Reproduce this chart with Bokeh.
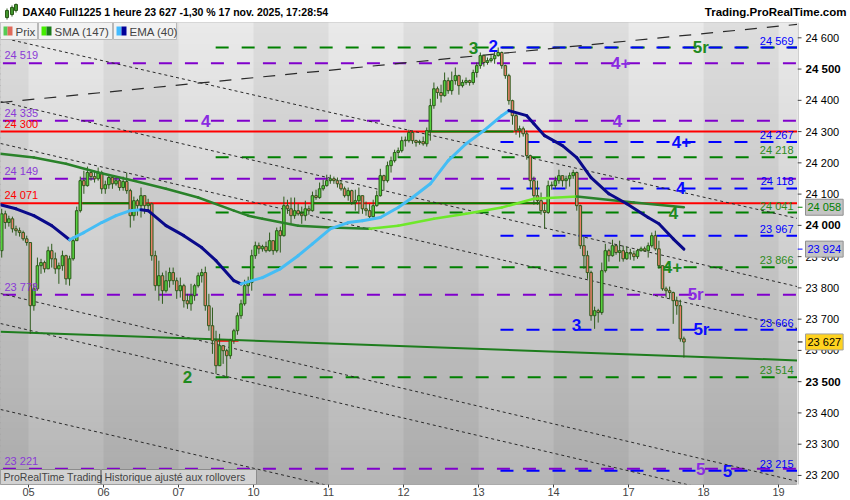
import numpy as np
from bokeh.plotting import figure
from bokeh.layouts import column, row
from bokeh.models import Range1d, FixedTicker, Label, BoxAnnotation
from bokeh.core.properties import value
from bokeh.embed import file_html
from bokeh.resources import INLINE

FONT = "Liberation Sans"

# ---------------------------------------------------------------- data
# DAX40 Full1225, hourly bars from 4 Nov 13:00 to 17 Nov 16:00
day_ticks = ["05", "06", "07", "10", "11", "12", "13", "14", "17", "18", "19"]
BARS_PER_DAY = 21
BARS_BEFORE_FIRST_DAY = 8

first_open = 23919
close = [
    # 4 Nov
    24037, 24009, 24021, 23989, 23983, 23977, 23957, 23945,
    # 5 Nov
    23743, 23797, 23871, 23881, 23861, 23919, 23893, 23861, 23871, 23903, 23829,
    23893, 23951, 24047, 24143, 24127, 24169, 24156, 24149, 24169, 24117,
    # 6 Nov
    24130, 24153, 24133, 24143, 24121, 24140, 24111, 24031, 24079, 24063, 24095,
    24063, 24069, 23903, 23807, 23839, 23791, 23823, 23849, 23823, 23791,
    # 7 Nov
    23807, 23759, 23749, 23775, 23807, 23839, 23849, 23743, 23679, 23631, 23551,
    23615, 23599, 23583, 23631, 23663, 23711, 23749, 23807, 23817, 23903,
    # 10 Nov
    23935, 23925, 23932, 23919, 23951, 23919, 23983, 23967, 24063, 24053, 24031,
    24047, 24037, 24031, 24053, 24047, 24095, 24089, 24117, 24127, 24143,
    # 11 Nov
    24149, 24143, 24133, 24117, 24095, 24111, 24073, 24079, 24095, 24053, 24047,
    24028, 24063, 24095, 24159, 24143, 24191, 24207, 24233, 24239, 24271,
    # 12 Nov
    24271, 24297, 24271, 24265, 24268, 24261, 24303, 24383, 24437, 24425, 24415,
    24463, 24431, 24463, 24479, 24447, 24457, 24463, 24457, 24489, 24511,
    # 13 Nov
    24543, 24521, 24527, 24533, 24543, 24553, 24511, 24479, 24399, 24351, 24303,
    24309, 24293, 24223, 24143, 24095, 24079, 24047, 24041, 24127, 24127,
    # 14 Nov
    24143, 24159, 24143, 24149, 24159, 24169, 24063, 23935, 23903, 23849, 23711,
    23727, 23721, 23855, 23919, 23903, 23935, 23913, 23919, 23893, 23913,
    # 17 Nov
    23909, 23900, 23919, 23925, 23919, 23935, 23967, 23925, 23871, 23797, 23791,
    23785, 23759, 23743, 23637, 23627,
]
high = [
    24053, 24047, 24031, 24028, 23999, 23993, 23983, 23967,
    23945, 23813, 23897, 23893, 23887, 23932, 23941, 23913, 23881, 23919, 23906,
    23903, 23964, 24060, 24156, 24175, 24188, 24175, 24175, 24185, 24175,
    24143, 24162, 24156, 24153, 24149, 24156, 24169, 24117, 24092, 24085, 24121,
    24095, 24085, 24073, 23919, 23887, 23849, 23855, 23865, 23865, 23833,
    23833, 23813, 23781, 23813, 23813, 23849, 23861, 23868, 23781, 23737, 23663,
    23653, 23615, 23605, 23637, 23669, 23721, 23762, 23826, 23836, 23922,
    23948, 23945, 23938, 23948, 23977, 23951, 23993, 23996, 24092, 24082, 24089,
    24089, 24069, 24060, 24079, 24063, 24108, 24114, 24137, 24146, 24162,
    24162, 24156, 24153, 24143, 24124, 24121, 24114, 24114, 24121, 24095, 24076,
    24069, 24082, 24111, 24181, 24162, 24204, 24220, 24242, 24249, 24284,
    24284, 24306, 24303, 24274, 24274, 24284, 24313, 24405, 24457, 24444, 24450,
    24489, 24473, 24492, 24505, 24482, 24466, 24473, 24466, 24498, 24521,
    24553, 24546, 24537, 24546, 24556, 24569, 24556, 24514, 24485, 24402, 24357,
    24319, 24316, 24303, 24226, 24156, 24143, 24105, 24069, 24143, 24140,
    24156, 24178, 24159, 24159, 24169, 24178, 24172, 24066, 23964, 23919, 23855,
    23740, 23733, 23881, 23941, 23925, 23954, 23938, 23951, 23935, 23932,
    23925, 23919, 23925, 23932, 23932, 23945, 23977, 23983, 23951, 23871, 23804,
    23804, 23788, 23772, 23762, 23644,
]
low = [
    23897, 23989, 23996, 23977, 23967, 23964, 23951, 23935,
    23653, 23727, 23791, 23845, 23849, 23861, 23865, 23845, 23813, 23855, 23810,
    23807, 23887, 23951, 24041, 24101, 24124, 24143, 24137, 24143, 24101,
    24101, 24117, 24117, 24127, 24111, 24111, 24101, 23993, 24015, 24031, 24025,
    24037, 24047, 23887, 23791, 23759, 23749, 23785, 23801, 23810, 23765,
    23769, 23737, 23733, 23727, 23759, 23801, 23817, 23727, 23663, 23589, 23525,
    23551, 23557, 23513, 23573, 23621, 23650, 23701, 23743, 23781, 23791,
    23893, 23909, 23916, 23913, 23916, 23906, 23913, 23913, 23964, 24037, 24005,
    24021, 24031, 24005, 24015, 24034, 24044, 24082, 24085, 24111, 24124,
    24133, 24133, 24121, 24111, 24089, 24079, 24066, 24047, 24037, 24037, 24031,
    24015, 24025, 24060, 24092, 24111, 24137, 24169, 24201, 24220, 24233,
    24252, 24265, 24261, 24252, 24258, 24255, 24252, 24271, 24373, 24405, 24393,
    24412, 24421, 24418, 24450, 24418, 24441, 24450, 24447, 24450, 24473,
    24501, 24508, 24514, 24521, 24517, 24540, 24501, 24469, 24386, 24322, 24290,
    24281, 24284, 24210, 24117, 24066, 24066, 24034, 23989, 24037, 24114,
    24117, 24133, 24124, 24117, 24124, 24149, 24047, 23925, 23861, 23829, 23695,
    23669, 23689, 23714, 23849, 23884, 23900, 23906, 23884, 23884, 23890,
    23890, 23887, 23893, 23916, 23916, 23897, 23929, 23919, 23861, 23791, 23769,
    23765, 23685, 23714, 23628, 23577,
]

# moving averages, sampled along the bar index
sma_x = [-0.4, 9, 18, 27, 37, 46, 55, 65, 69, 73, 83, 92, 103, 111, 121, 130,
         140, 149, 161, 177, 191]
sma_v = [24229, 24217, 24197, 24169, 24143, 24117, 24089, 24047, 24031, 24021,
         23999, 23993, 23989, 23999, 24021, 24037, 24057, 24085, 24092, 24073, 24058]
ema_x = [-0.4, 4, 9, 14, 19, 23, 28, 32, 36, 39, 41, 46, 51, 56, 60, 65, 67, 73,
         78, 83, 87, 92, 97, 101, 106, 111, 115, 120, 125, 130, 135, 140, 142,
         147, 149, 152, 157, 161, 165, 170, 175, 181, 184, 188, 191]
ema_v = [24066, 24053, 24031, 23999, 23954, 23977, 24009, 24031, 24047, 24050,
         24047, 23999, 23967, 23929, 23887, 23823, 23813, 23833, 23861, 23903,
         23941, 23989, 24009, 24015, 24025, 24057, 24089, 24133, 24207, 24261,
         24303, 24351, 24367, 24351, 24325, 24287, 24255, 24217, 24153, 24101,
         24069, 24025, 24005, 23957, 23924]

last_price = 23627
sma_last = 24058
ema_last = 23924

# horizontal levels
purple_levels = [24519, 24335, 24149, 23778, 23221]
red_levels = [24300, 24071]
green_levels = [24569, 24218, 24041, 23866, 23514]
blue_levels = [24569, 24267, 24118, 23967, 23666, 23215]
green_from = 59.9
blue_from = 136.0

# solid green pieces along the red levels, and the short red one at the low
green_piece_level = [24071, 24071, 24071, 24300]
green_piece_x0 = [22.6, 87.3, 105.2, 119.2]
green_piece_x1 = [36.9, 99.1, 150.9, 143.3]
red_piece = (60.4, 66.3, 23631)

# descending channel (short dashes), rising resistance (long dashes), support
chan_y_start = [24601, 24396, 24262, 23782, 23686, 23411]
chan_y_end = [24022, 23804, 23670, 23181, 23088, 22819]
resist = (24393, 24643)
support = (23660, 23568)

# wave counts
wave_text = ["5r", "3", "2", "4+", "4", "4", "4+", "4", "4", "4+", "5r", "3", "5r", "2", "5", "5"]
wave_x = [195.7, 132.1, 137.6, 173.3, 57.1, 172.4, 190.3, 190.1, 188.1, 187.8,
          194.3, 160.9, 195.9, 52.0, 195.7, 203.2]
wave_y = [24569, 24569, 24573, 24519, 24335, 24335, 24267, 24118, 24041, 23866,
          23778, 23680, 23666, 23514, 23221, 23215]
wave_col = ["g", "g", "b", "p", "p", "p", "b", "b", "g", "g", "p", "b", "b", "g", "p", "b"]

# ---------------------------------------------------------------- layout
W, H = 850, 500
FRAME_T, FRAME_B, FRAME_R = 22, 484, 797
X0, X1 = -0.34, 222.8
Y0, Y1 = 23171, 24649

PURPLE = "#8000cc"
PURPLE_TXT = "#8a3ad6"
GREEN = "#008000"
GREEN_TXT = "#2e8b22"
BLUE = "#0000ff"
RED = "#ff0000"
CANDLE_EDGE = "#2d5a1b"


def fmt(v):
    return f"{v // 1000} {v % 1000:03d}"


def bare(fig):
    fig.grid.visible = False
    fig.border_fill_color = "white"
    fig.outline_line_color = None
    return fig


# ---- main chart
p = figure(width=FRAME_R, height=H - FRAME_T, x_range=Range1d(X0, X1),
           y_range=Range1d(Y0, Y1), output_backend="svg", toolbar_location=None,
           y_axis_location=None, min_border_left=0, min_border_right=0,
           min_border_top=0, min_border_bottom=H - FRAME_B)
bare(p)
p.outline_line_color = "#a0a0a0"

# vertical gradient of the chart background (strips overlap to avoid seams)
n_strips = 80
edges = np.linspace(Y0 - 5, Y1 + 5, n_strips + 1)
step = edges[1] - edges[0]
shade = np.linspace(182, 234, n_strips)
strip_colors = ["#%02x%02x%02x" % (int(s), int(s), int(s)) for s in shade]
p.quad(left=X0 - 2, right=X1 + 2, bottom=edges[:-1], top=edges[1:] + 0.8 * step,
       fill_color=strip_colors, line_color=None)

# darker band on every other session
band_left = [BARS_BEFORE_FIRST_DAY - 0.5 + BARS_PER_DAY * d for d in (-1, 1, 3, 5, 7, 9)]
p.quad(left=band_left, right=[b + BARS_PER_DAY for b in band_left],
       bottom=Y0 - 10, top=Y1 + 10, fill_color="black", fill_alpha=0.05, line_color=None)

# levels
for lv in purple_levels:
    p.segment(X0 - 1, lv, X1 + 1, lv, color=PURPLE, line_width=2, line_dash="13 13",
              line_dash_offset=-6)
for lv in red_levels:
    p.segment(X0 - 1, lv, X1 + 1, lv, color=RED, line_width=2)
p.segment(green_piece_x0, green_piece_level, green_piece_x1, green_piece_level,
          color=GREEN, line_width=2)
p.segment(red_piece[0], red_piece[2], red_piece[1], red_piece[2], color=RED, line_width=2)
for lv in green_levels:
    p.segment(green_from, lv, X1 + 1, lv, color=GREEN, line_width=2, line_dash="13 13")
for lv in blue_levels:
    p.segment(blue_from, lv, X1 + 1, lv, color=BLUE, line_width=2, line_dash="13 13",
              line_dash_offset=13)

# channel and trend lines
n_ch = len(chan_y_start)
p.segment([X0] * n_ch, chan_y_start, [X1] * n_ch, chan_y_end, color="#2a2a2a",
          line_width=1, line_dash="3 3")
p.segment(X0, resist[0], X1, resist[1], color="#2a2a2a", line_width=1.2, line_dash="12 10")
p.segment(X0, support[0], X1, support[1], color="#1e7d1e", line_width=2)

# candles
idx = np.arange(len(close))
c = np.array(close, dtype=float)
o = np.concatenate([[first_open], c[:-1]])
hi = np.maximum(np.array(high, dtype=float), np.maximum(o, c))
lo = np.minimum(np.array(low, dtype=float), np.minimum(o, c))
rising = c >= o
body_top = np.maximum(o, c)
body_bot = np.minimum(o, c)
body_top = np.where(body_top - body_bot < 2, body_bot + 2, body_top)
p.segment(idx, lo, idx, hi, color=CANDLE_EDGE, line_width=1)
p.vbar(x=idx, bottom=body_bot, top=body_top, width=0.72,
       fill_color=np.where(rising, "#56d23e", "#e8806a").tolist(),
       line_color=CANDLE_EDGE, line_width=1)


# moving averages, light colour while rising and dark while falling
def two_tone(xs, vs, up_col, down_col, width):
    cols = [up_col if b >= a else down_col for a, b in zip(vs[:-1], vs[1:])]
    p.segment(xs[:-1], vs[:-1], xs[1:], vs[1:], color=cols, line_width=width,
              line_cap="round")


two_tone(sma_x, sma_v, "#6ee82a", "#2a822a", 2.5)
two_tone(ema_x, ema_v, "#45bdf5", "#0a0a8a", 3)


def sy(cy):
    return FRAME_B - cy


def add_label(fig, x, y, text, xu="screen", yu="screen", **kw):
    args = dict(text_font=FONT, text_font_size="11px", text_baseline="middle")
    args.update(kw)
    fig.add_layout(Label(x=x, y=y, x_units=xu, y_units=yu, text=text, **args))


# wave counts on the levels
wave_colors = {"g": "#1f8a1f", "b": "#0a0aff", "p": "#8a2be2"}
for t, x, y, k in zip(wave_text, wave_x, wave_y, wave_col):
    add_label(p, x, y, t, xu="data", yu="data", text_color=wave_colors[k],
              text_font_size="17px", text_font_style="bold", text_align="center")

# level values on the left
left_vals = [24519, 24335, 24300, 24149, 24071, 23778, 23221]
left_cols = [PURPLE_TXT, PURPLE_TXT, RED, PURPLE_TXT, RED, PURPLE_TXT, PURPLE_TXT]
for v, col in zip(left_vals, left_cols):
    add_label(p, 4, v, fmt(v), yu="data", text_color=col, text_baseline="bottom", y_offset=2)

# level values on the right
right_vals = [24569, 24267, 24218, 24118, 24041, 23967, 23866, 23666, 23514, 23215]
right_cols = [BLUE, BLUE, GREEN_TXT, BLUE, GREEN_TXT, BLUE, GREEN_TXT, BLUE, GREEN_TXT, BLUE]
for v, col in zip(right_vals, right_cols):
    add_label(p, 793, v, fmt(v), yu="data", text_color=col, text_align="right",
              text_baseline="bottom", y_offset=1)

# date axis
x_ticks = [BARS_BEFORE_FIRST_DAY - 0.5 + BARS_PER_DAY * k for k in range(len(day_ticks))]
p.xaxis.ticker = FixedTicker(ticks=x_ticks)
p.xaxis.major_label_overrides = dict(zip(x_ticks, day_ticks))
p.xaxis.major_label_text_font = FONT
p.xaxis.major_label_text_font_size = "11px"
p.xaxis.major_tick_out = 3
p.xaxis.major_tick_in = 0
p.xaxis.minor_tick_line_color = None
p.xaxis.axis_line_color = None
p.xaxis.major_tick_line_color = "#404040"
p.xaxis.major_label_standoff = 0

# legend buttons
for l, r in [(0, 37), (38, 112), (113, 176)]:
    p.add_layout(BoxAnnotation(left=l, right=r, top=sy(22), bottom=sy(39),
                               left_units="screen", right_units="screen",
                               top_units="screen", bottom_units="screen",
                               fill_color="#f2f2f2", fill_alpha=1,
                               line_color="#b8b8b8", line_alpha=1, line_width=1))
for l, r, col in [(3, 7, "#55cc55"), (7, 12, "#e06a5a"), (41, 46, "#44ee00"),
                  (46, 51, "#1a7a1a"), (116, 121, "#44bbff"), (121, 126, "#000099")]:
    p.add_layout(BoxAnnotation(left=l, right=r, top=sy(26), bottom=sy(35),
                               left_units="screen", right_units="screen",
                               top_units="screen", bottom_units="screen",
                               fill_color=col, fill_alpha=1, line_color=None))
add_label(p, 15, sy(31), "Prix", text_font_size="11.5px")
add_label(p, 54, sy(31), "SMA (147)", text_font_size="11.5px")
add_label(p, 129, sy(31), "EMA (40)", text_font_size="11.5px")

# footer
for l, r in [(0, 100), (101, 256)]:
    p.add_layout(BoxAnnotation(left=l, right=r, top=sy(469), bottom=sy(484),
                               left_units="screen", right_units="screen",
                               top_units="screen", bottom_units="screen",
                               fill_color="#d2d2d2", fill_alpha=1,
                               line_color="#8c8c8c", line_alpha=1, line_width=1))
add_label(p, 3, sy(476.5), "ProRealTime Trading", text_font_size="10.5px")
add_label(p, 104, sy(476.5), "Historique ajusté aux rollovers", text_font_size="10.5px")

# ---- price scale on the right, sharing the chart's price range
AXW = W - FRAME_R
ax = figure(width=AXW, height=H - FRAME_T, x_range=Range1d(0, AXW), y_range=p.y_range,
            output_backend="svg", toolbar_location=None, x_axis_location=None,
            y_axis_location=None, min_border_left=0, min_border_right=0,
            min_border_top=0, min_border_bottom=H - FRAME_B)
bare(ax)
ax.background_fill_color = "white"
y_ticks = list(range(23200, 24601, 100))
bold_ticks = [23500, 24000, 24500]
plain_ticks = [v for v in y_ticks if v not in bold_ticks]
ax.segment(0.5, Y0 - 50, 0.5, Y1 + 50, color="#a0a0a0", line_width=1)
ax.segment(0, y_ticks, 4, y_ticks, color="#404040", line_width=1)
ax.text(x=8, y=plain_ticks, text=[fmt(v) for v in plain_ticks], text_font=value(FONT),
        text_font_size="11px", text_baseline="middle", text_color="black")
ax.text(x=8, y=bold_ticks, text=[fmt(v) for v in bold_ticks], text_font=value(FONT),
        text_font_size="11.5px", text_font_style="bold", text_baseline="middle",
        text_color="black")
ax.segment(0, [sma_last, ema_last, last_price], 5, [sma_last, ema_last, last_price],
           color=[GREEN, BLUE, "black"], line_width=1)
add_label(ax, 8, sma_last, fmt(sma_last), yu="data", text_color=GREEN,
          background_fill_color="#c4c4c4", border_line_color="#909090", padding=2)
add_label(ax, 8, ema_last, fmt(ema_last), yu="data", text_color=BLUE,
          background_fill_color="#c4c4c4", border_line_color="#909090", padding=2)
add_label(ax, 8, last_price, fmt(last_price), yu="data", text_color="black",
          background_fill_color="#ffd21f", border_line_color="#a0a0a0", padding=2)

# ---- header line with instrument and source
hd = figure(width=W, height=FRAME_T, x_range=Range1d(0, W), y_range=Range1d(FRAME_T, 0),
            output_backend="svg", toolbar_location=None, x_axis_location=None,
            y_axis_location=None, min_border=0)
bare(hd)
hd.background_fill_color = "white"
hd.quad(left=[5, 10, 14], right=[8, 13, 17], top=[10, 7, 4], bottom=[17, 14, 10],
        fill_color="#56d23e", line_color=CANDLE_EDGE)
hd.segment([6.5, 11.5, 15.5], [8, 5, 3], [6.5, 11.5, 15.5], [19, 16, 12],
           color=CANDLE_EDGE, line_width=1)
hd.text(x=[22], y=[11], text=["DAX40 Full1225 1 heure 23 627 -1,30 % 17 nov. 2025, 17:28:54"],
        text_font=value(FONT), text_font_size="10.5px", text_font_style="bold",
        text_baseline="middle", text_color="black")
hd.text(x=[846], y=[11], text=["Trading.ProRealTime.com"], text_font=value(FONT),
        text_font_size="11.5px", text_font_style="bold", text_baseline="middle",
        text_align="right", text_color="black")

layout = column(hd, row(p, ax, spacing=0), spacing=0)
open("out.html", "w").write(file_html(layout, INLINE))
